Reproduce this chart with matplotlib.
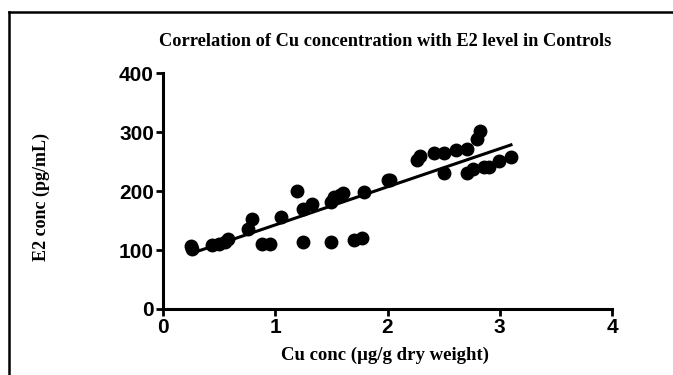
import numpy as np
import matplotlib
matplotlib.use("Agg")
import matplotlib.pyplot as plt
from matplotlib.lines import Line2D

cu_conc = [0.25, 0.26, 0.44, 0.50, 0.55, 0.58, 0.76, 0.79, 0.88, 0.95,
           1.05, 1.19, 1.25, 1.25, 1.33, 1.50, 1.50, 1.52, 1.58, 1.60,
           1.70, 1.77, 1.79, 2.00, 2.02, 2.26, 2.29, 2.41, 2.50, 2.50,
           2.61, 2.71, 2.71, 2.76, 2.80, 2.82, 2.86, 2.90, 2.99, 3.10]
e2_level = [107, 102, 109, 110, 113, 118, 135, 152, 111, 111,
            156, 200, 113, 170, 178, 114, 182, 190, 193, 196,
            117, 120, 199, 219, 219, 252, 259, 265, 265, 230,
            270, 271, 230, 237, 289, 302, 241, 240, 251, 257]

x_ticks = [0, 1, 2, 3, 4]
y_ticks = [0, 100, 200, 300, 400]

fig = plt.figure(figsize=(6.73, 3.75), dpi=100)
ax = fig.add_axes([0.2422, 0.176, 0.6672, 0.629])

ax.plot(cu_conc, e2_level, 'o', color='black', markersize=9, zorder=3)

coef = np.polyfit(cu_conc, e2_level, 1)
xfit = np.array([min(cu_conc), max(cu_conc)])
ax.plot(xfit, np.polyval(coef, xfit), color='black', linewidth=2.2, zorder=2)

ax.set_xlim(0, 4)
ax.set_ylim(0, 400)
ax.set_xticks(x_ticks)
ax.set_yticks(y_ticks)
ax.set_xticklabels([str(v) for v in x_ticks], fontfamily='Liberation Sans', fontweight='bold', fontsize=15)
ax.set_yticklabels([str(v) for v in y_ticks], fontfamily='Liberation Sans', fontweight='bold', fontsize=15)
for s in ['top', 'right']:
    ax.spines[s].set_visible(False)
for s in ['left', 'bottom']:
    ax.spines[s].set_linewidth(2.2)
ax.tick_params(direction='out', length=5, width=2, pad=1.5)

fig.text(0.572, 0.888, 'Correlation of Cu concentration with E2 level in Controls',
         fontfamily='Liberation Serif', fontweight='bold', fontsize=13.2,
         ha='center', va='center')
ax.set_xlabel('Cu conc (\u00b5g/g dry weight)', fontfamily='Liberation Serif',
              fontweight='bold', fontsize=13.5)
ax.xaxis.set_label_coords(0.494, -0.195)
ax.xaxis.label.set_va('center')
ax.set_ylabel('E2 conc (pg/mL)', fontfamily='Liberation Serif',
              fontweight='bold', fontsize=13)
ax.yaxis.set_label_coords(-0.27, 0.475)
ax.yaxis.label.set_va('center')

fig.add_artist(Line2D([0.0134, 0.0134], [0, 0.968], transform=fig.transFigure, color='black', linewidth=1.8))
fig.add_artist(Line2D([0.0134, 1.0], [0.968, 0.968], transform=fig.transFigure, color='black', linewidth=1.8))

fig.savefig('out.png', dpi=100)
